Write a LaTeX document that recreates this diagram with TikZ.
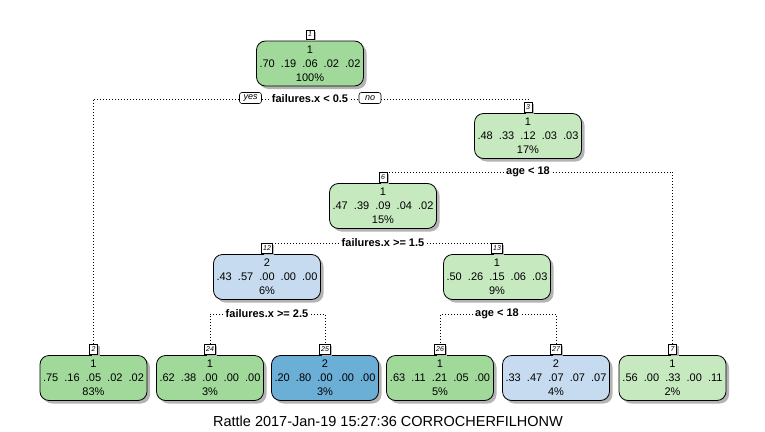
\documentclass[tikz,border=0pt]{standalone}
\usepackage{fontspec}
\setmainfont{Liberation Sans}
\usetikzlibrary{shadows,backgrounds}
\definecolor{gA}{HTML}{A1D99B}
\definecolor{gB}{HTML}{C7E9C0}
\definecolor{bA}{HTML}{C6DBEF}
\definecolor{bB}{HTML}{6BAED6}
\definecolor{shd}{HTML}{B4B4B4}
\begin{document}
\begin{tikzpicture}[x=1pt,y=-1pt,
  box/.style={draw, rounded corners=9pt, minimum width=107pt, minimum height=45pt,
    align=center, inner sep=0pt, line width=0.8pt,
    font=\fontsize{11}{14}\selectfont,
    drop shadow={shadow xshift=3pt, shadow yshift=-3pt, fill=shd, opacity=1}},
  numlab/.style={draw, fill=white, inner xsep=1.5pt, inner ysep=1pt, minimum height=9.5pt,
    minimum width=8pt, line width=0.6pt, font=\fontsize{7}{7}\selectfont\itshape,
    drop shadow={shadow xshift=2pt, shadow yshift=-2pt, fill=shd, opacity=1}},
  splitlab/.style={fill=white, inner xsep=2.5pt, inner ysep=1pt, font=\fontsize{11}{11}\selectfont\bfseries},
  yn/.style={draw, fill=white, rounded corners=2.5pt, inner xsep=2pt, inner ysep=1pt,
    minimum height=11pt, minimum width=22pt, line width=0.6pt, font=\fontsize{9}{9}\selectfont\itshape},
  conn/.style={line width=0.8pt, dash pattern=on 0.8pt off 2.2pt}]
\useasboundingbox (0,0) rectangle (765,431);

% internal nodes
\node[box, fill=gA] (n1) at (310,63.5) {1\\.70~~.19~~.06~~.02~~.02\\100\%};
\node[box, fill=gB] (n3) at (528,136) {1\\.48~~.33~~.12~~.03~~.03\\17\%};
\node[box, fill=gB] (n6) at (383,206) {1\\.47~~.39~~.09~~.04~~.02\\15\%};
\node[box, fill=bA] (n12) at (267,277) {2\\.43~~.57~~.00~~.00~~.00\\6\%};
\node[box, fill=gB] (n13) at (497,277) {1\\.50~~.26~~.15~~.06~~.03\\9\%};
% leaves
\node[box, fill=gA] (n2) at (93.5,378) {1\\.75~~.16~~.05~~.02~~.02\\83\%};
\node[box, fill=gA] (n24) at (210,378) {1\\.62~~.38~~.00~~.00~~.00\\3\%};
\node[box, fill=bB] (n25) at (325,378) {2\\.20~~.80~~.00~~.00~~.00\\3\%};
\node[box, fill=gA] (n26) at (440,378) {1\\.63~~.11~~.21~~.05~~.00\\5\%};
\node[box, fill=bA] (n27) at (556,378) {2\\.33~~.47~~.07~~.07~~.07\\4\%};
\node[box, fill=gB] (n7) at (672.5,378) {1\\.56~~.00~~.33~~.00~~.11\\2\%};

% node number labels
\foreach \n in {1,3,6,12,13,2,24,25,26,27,7}{
  \node[numlab, anchor=south] (k\n) at ([yshift=1pt]n\n.north) {\n};
}

% split labels
\node[splitlab] (s1) at (310,99) {failures.x < 0.5};
\node[splitlab] (s3) at (528,172) {age < 18};
\node[splitlab] (s6) at (383,243) {failures.x >= 1.5};
\node[splitlab] (s12) at (267,314) {failures.x >= 2.5};
\node[splitlab] (s13) at (497,314) {age < 18};

\node[yn] (yes) at (250.5,98) {yes};
\node[yn] (no) at (370,98) {no};

% title
\node[font=\fontsize{14.5}{14.5}\selectfont, anchor=base] (title) at (388,426) {Rattle 2017-Jan-19 15:27:36 CORROCHERFILHONW};

\begin{scope}[on background layer]
\draw[conn] (s1.west) -| (k2.north);
\draw[conn] (s1.east) -| (k3.north);
\draw[conn] (s3.west) -| (k6.north);
\draw[conn] (s3.east) -| (k7.north);
\draw[conn] (s6.west) -| (k12.north);
\draw[conn] (s6.east) -| (k13.north);
\draw[conn] (s12.west) -| (k24.north);
\draw[conn] (s12.east) -| (k25.north);
\draw[conn] (s13.west) -| (k26.north);
\draw[conn] (s13.east) -| (k27.north);
\end{scope}
\end{tikzpicture}
\end{document}
